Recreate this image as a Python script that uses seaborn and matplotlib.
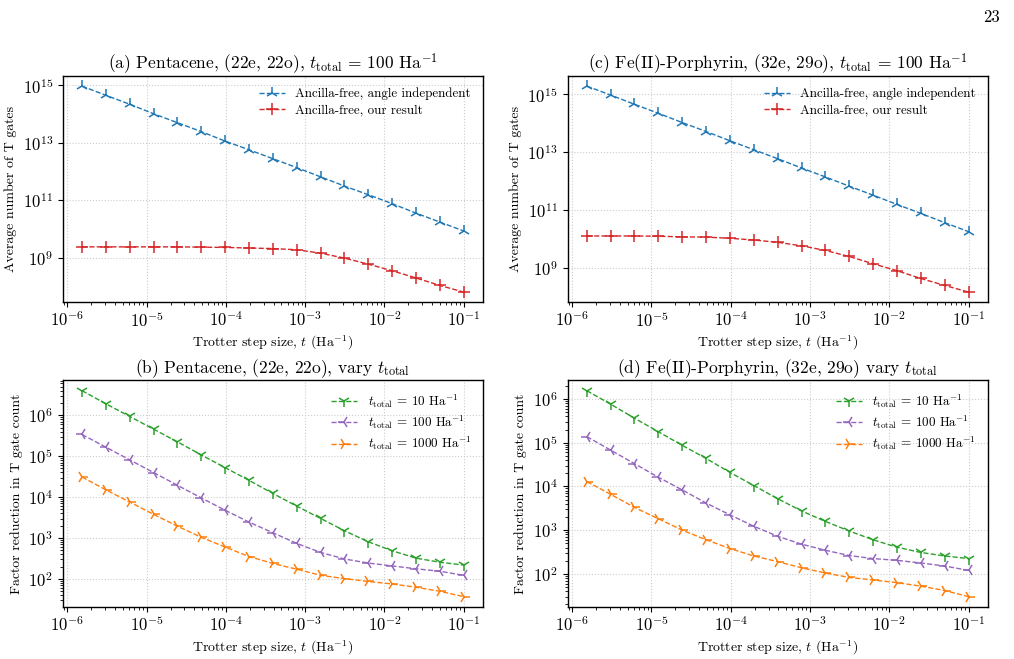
import numpy as np
import seaborn as sns
import matplotlib.pyplot as plt
from matplotlib.ticker import NullLocator, FixedLocator

# Trotter step sizes (Ha^-1)
step_sizes = [1.526e-6, 3.052e-6, 6.104e-6, 1.221e-5, 2.441e-5, 4.883e-5,
              9.766e-5, 1.953e-4, 3.906e-4, 7.813e-4, 1.563e-3, 3.125e-3,
              6.25e-3, 1.25e-2, 2.5e-2, 5e-2, 1e-1]

# log10 of average T gate counts, t_total = 100
pent_angle_indep = [14.97, 14.65, 14.34, 14.01, 13.70, 13.39, 13.06, 12.76, 12.45,
                    12.14, 11.82, 11.50, 11.20, 10.89, 10.56, 10.25, 9.94]
pent_our_result = [9.39, 9.39, 9.39, 9.39, 9.39, 9.38, 9.37, 9.35, 9.33,
                   9.29, 9.17, 9.00, 8.79, 8.56, 8.31, 8.05, 7.82]
porph_angle_indep = [15.29, 14.98, 14.66, 14.35, 14.03, 13.72, 13.40, 13.09, 12.78,
                     12.46, 12.15, 11.83, 11.52, 11.20, 10.89, 10.57, 10.26]
porph_our_result = [10.11, 10.11, 10.11, 10.10, 10.08, 10.07, 10.03, 9.97, 9.89,
                    9.77, 9.61, 9.40, 9.15, 8.91, 8.64, 8.40, 8.17]

# log10 of factor reduction in T gate count, by t_total
pent_reduction = {
    10: [6.60, 6.28, 5.97, 5.66, 5.35, 5.03, 4.72, 4.41, 4.09,
         3.78, 3.48, 3.18, 2.91, 2.69, 2.51, 2.41, 2.34],
    100: [5.53, 5.22, 4.91, 4.60, 4.29, 3.98, 3.68, 3.39, 3.13,
          2.87, 2.65, 2.49, 2.39, 2.32, 2.25, 2.19, 2.09],
    1000: [4.49, 4.18, 3.88, 3.58, 3.29, 3.02, 2.78, 2.55, 2.38,
           2.24, 2.09, 2.01, 1.94, 1.88, 1.80, 1.70, 1.57],
}
porph_reduction = {
    10: [6.19, 5.88, 5.56, 5.25, 4.94, 4.64, 4.32, 4.02, 3.72,
         3.44, 3.20, 2.98, 2.78, 2.61, 2.49, 2.41, 2.35],
    100: [5.14, 4.83, 4.52, 4.21, 3.92, 3.62, 3.35, 3.09, 2.86,
          2.68, 2.54, 2.42, 2.35, 2.31, 2.25, 2.18, 2.08],
    1000: [4.11, 3.82, 3.52, 3.26, 3.00, 2.78, 2.58, 2.41, 2.28,
           2.14, 2.02, 1.92, 1.86, 1.80, 1.72, 1.62, 1.48],
}

sns.set_theme(style="ticks")
plt.rcParams.update({
    "font.family": "serif",
    "font.serif": ["cmr10", "DejaVu Serif"],
    "mathtext.fontset": "cm",
    "axes.formatter.use_mathtext": True,
    "axes.unicode_minus": False,
    "font.size": 10,
    "axes.edgecolor": "black",
    "axes.linewidth": 1.0,
    "xtick.color": "black",
    "ytick.color": "black",
    "text.color": "black",
    "axes.labelcolor": "black",
    "xtick.major.size": 3.5,
    "ytick.major.size": 3.5,
    "xtick.minor.size": 2.0,
    "ytick.minor.size": 2.0,
    "xtick.major.width": 0.8,
    "ytick.major.width": 0.8,
    "xtick.minor.width": 0.6,
    "ytick.minor.width": 0.6,
})

fig, axes = plt.subplots(2, 2, figsize=(10.14, 6.59), dpi=100)
fig.subplots_adjust(left=0.062, right=0.974, top=0.885, bottom=0.079,
                    wspace=0.202, hspace=0.344)

t = np.array(step_sizes)
xlabel = r"Trotter step size, $t$ (Ha$^{-1}$)"


def draw(ax, vals, color, marker, label):
    sns.lineplot(x=t, y=10 ** np.array(vals), ax=ax, color=color, marker=marker,
                 markeredgecolor=color, markerfacecolor=color, markersize=9,
                 markeredgewidth=1.1, linestyle="--", linewidth=1.0, label=label)


def top_panel(ax, angle_indep, our_result, title):
    draw(ax, angle_indep, "#1f77b4", "2", "Ancilla-free, angle independent")
    draw(ax, our_result, "#d62728", "+", "Ancilla-free, our result")
    ax.set_xscale("log")
    ax.set_yscale("log")
    ax.set_ylabel("Average number of T gates", fontsize=10)
    ax.yaxis.set_major_locator(FixedLocator([1e9, 1e11, 1e13, 1e15]))
    ax.yaxis.set_minor_locator(NullLocator())
    ax.set_title(title, pad=4, fontsize=12.5)


def bottom_panel(ax, reduction, title):
    styles = {10: ("#2ca02c", "1"), 100: ("#9467bd", "3"), 1000: ("#ff7f0e", "4")}
    for tt, vals in reduction.items():
        c, m = styles[tt]
        draw(ax, vals, c, m, r"$t_{\rm total}$ = %d Ha$^{-1}$" % tt)
    ax.set_xscale("log")
    ax.set_yscale("log")
    ax.set_ylabel("Factor reduction in T gate count", fontsize=10)
    ax.set_title(title, pad=4, fontsize=12.5)


top_panel(axes[0, 0], pent_angle_indep, pent_our_result,
          r"(a) Pentacene, (22e, 22o), $t_{\rm total}$ = 100 Ha$^{-1}$")
top_panel(axes[0, 1], porph_angle_indep, porph_our_result,
          r"(c) Fe(II)-Porphyrin, (32e, 29o), $t_{\rm total}$ = 100 Ha$^{-1}$")
bottom_panel(axes[1, 0], pent_reduction,
             r"(b) Pentacene, (22e, 22o), vary $t_{\rm total}$")
bottom_panel(axes[1, 1], porph_reduction,
             r"(d) Fe(II)-Porphyrin, (32e, 29o) vary $t_{\rm total}$")

for ax in axes.flat:
    ax.set_xlabel(xlabel, fontsize=10, labelpad=3)
    ax.xaxis.set_major_locator(FixedLocator([1e-6, 1e-5, 1e-4, 1e-3, 1e-2, 1e-1]))
    ax.tick_params(axis="both", which="major", labelsize=12)
    ax.tick_params(axis="x", which="major", pad=2)
    ax.grid(True, which="major", linestyle=":", color="#cccccc", linewidth=0.8)
    ax.legend(loc="upper right", frameon=False, handlelength=2.0, fontsize=9.4,
              borderaxespad=0.5, labelspacing=0.3)

fig.text(0.986, 0.985, "23", ha="right", va="top", fontsize=12)

plt.savefig("out.png", dpi=100)
